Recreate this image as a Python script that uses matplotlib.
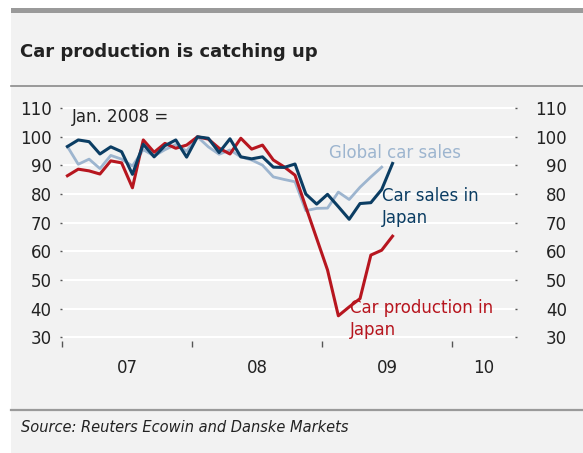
import numpy as np
import matplotlib.pyplot as plt
from matplotlib.patches import Rectangle
from matplotlib.lines import Line2D

# monthly index values, Jan. 2008 = 100, starting Jan 2007
japan_sales = [96.6, 98.9, 98.3, 94.0, 96.5, 94.8, 86.9, 97.4, 93.0, 96.9, 98.9, 92.9,
               100, 99.5, 94.5, 99.3, 93.0, 92.3, 93.0, 89.4, 89.3, 90.5, 80.0, 76.5,
               79.9, 75.6, 71.2, 76.7, 77.0, 81.6, 90.7]
global_sales = [96.6, 90.4, 92.2, 88.9, 93.5, 92.2, 89.8, 95.5, 93.3, 95.5, 97.3, 95.0,
                100, 96.5, 93.9, 95.4, 93.0, 91.9, 90.1, 86.0, 85.1, 84.3, 74.2, 75.0,
                75.1, 80.7, 78.1, 82.4, 86.0, 89.4]
japan_prod = [86.4, 88.7, 88.1, 87.0, 91.6, 90.9, 82.2, 98.9, 94.6, 97.7, 96.0, 97.1,
              100, 99.2, 96.0, 94.0, 99.5, 95.7, 97.1, 91.9, 89.5, 86.6, 75.5, 64.5,
              53.5, 37.5, 40.6, 43.5, 58.7, 60.4, 65.3]
year_labels = ['07', '08', '09', '10']
y_ticks = [30, 40, 50, 60, 70, 80, 90, 100, 110]

bg = '#f2f2f2'
navy = '#0b3d63'
red = '#b7161f'
lblue = '#9db5cf'
txt = '#222222'

W, H = 583.0, 453.0
fig = plt.figure(figsize=(5.83, 4.53), dpi=100)
fig.patch.set_facecolor(bg)

# white margins, header band and rules
fig.add_artist(Rectangle((0, 0), 11 / W, 1, transform=fig.transFigure,
                         facecolor='white', edgecolor='none', zorder=-5))
fig.add_artist(Rectangle((0, (H - 8) / H), 1, 8 / H, transform=fig.transFigure,
                         facecolor='white', edgecolor='none', zorder=-5))
fig.add_artist(Rectangle((11 / W, (H - 13) / H), 1, 5 / H, transform=fig.transFigure,
                         facecolor='#9a9a9a', edgecolor='none', zorder=-5))
fig.add_artist(Line2D([11 / W, 1], [(H - 86) / H] * 2, transform=fig.transFigure,
                      color='#8a8a8a', lw=1.2))
fig.add_artist(Line2D([11 / W, 1], [(H - 410) / H] * 2, transform=fig.transFigure,
                      color='#9a9a9a', lw=1.6))

fig.text(20 / W, (H - 52) / H, 'Car production is catching up', fontsize=13, fontweight='bold',
         color=txt, va='center', ha='left')
fig.text(21 / W, (H - 428) / H, 'Source: Reuters Ecowin and Danske Markets', fontsize=10.5,
         style='italic', color=txt, va='center', ha='left')

ax = fig.add_axes([62 / W, (H - 341) / H, (515 - 62) / W, 240 / H])
ax.set_facecolor(bg)
for s in ax.spines.values():
    s.set_visible(False)

x1 = np.arange(len(japan_sales)) + 0.5
x2 = np.arange(len(global_sales)) + 0.5
x3 = np.arange(len(japan_prod)) + 0.5

ax.plot(x2, global_sales, color=lblue, lw=2.0, zorder=3)
ax.plot(x3, japan_prod, color=red, lw=2.2, zorder=4)
ax.plot(x1, japan_sales, color=navy, lw=2.2, zorder=5)

ax.set_xlim(0, 41.8)
ax.set_ylim(28.7, 112.5)
ax.set_yticks(y_ticks)
ax.grid(axis='y', color='white', lw=1.5, zorder=1)
ax.set_axisbelow(True)
ax.tick_params(axis='y', length=1.5, width=1, color='#555555', labelsize=12,
               labelcolor=txt, pad=6)

# right hand axis with the same scale
ax2 = ax.twinx()
ax2.set_ylim(ax.get_ylim())
ax2.set_yticks(y_ticks)
for s in ax2.spines.values():
    s.set_visible(False)
ax2.tick_params(axis='y', length=1.5, width=1, color='#555555', labelsize=12,
                labelcolor=txt, pad=36)

ax.set_xticks([0, 12, 24, 36])
ax.set_xticklabels([])
ax.set_xticks([6, 18, 30, 38.9], minor=True)
ax.set_xticklabels(year_labels, minor=True)
ax.tick_params(axis='x', which='major', length=4, width=1, color='#555555')
ax.tick_params(axis='x', which='minor', length=0, pad=13, labelsize=12, labelcolor=txt)


def label(x, y, s, c):
    fig.text(x / W, (H - y) / H, s, fontsize=12, color=c, va='center', ha='left',
             linespacing=1.3, zorder=6)


label(72, 117, 'Jan. 2008 =', txt)
label(329, 153, 'Global car sales', lblue)
label(382, 207, 'Car sales in\nJapan', navy)
label(350, 319, 'Car production in\nJapan', red)

fig.canvas.draw()
for t in ax2.yaxis.get_major_ticks():
    t.label2.set_horizontalalignment('right')

fig.savefig('out.png', dpi=100, facecolor=fig.get_facecolor())
